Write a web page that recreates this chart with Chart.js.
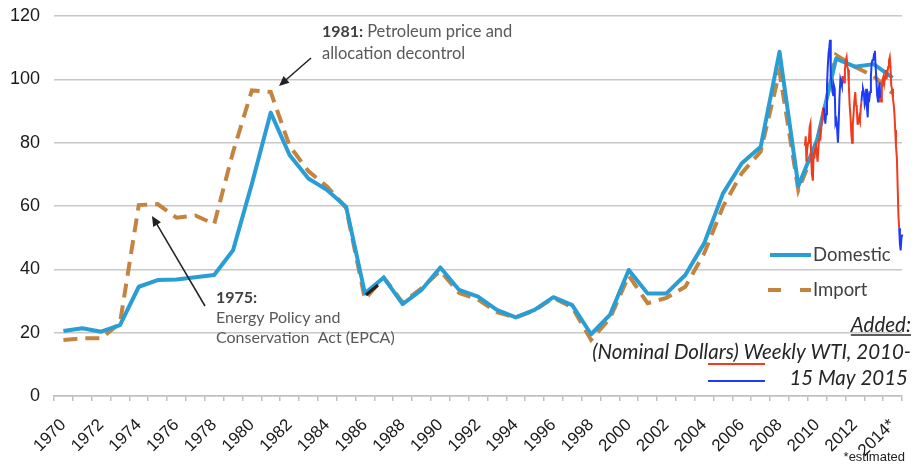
<!DOCTYPE html>
<html>
<head>
<meta charset="utf-8">
<script src="https://cdn.jsdelivr.net/npm/chart.js@4.4.1/dist/chart.umd.min.js"></script>
<style>
  html, body { margin: 0; padding: 0; background: #fff; }
  #wrap { width: 914px; height: 465px; position: relative; }
</style>
</head>
<body>
<div id="wrap"><canvas id="price-chart"></canvas></div>
<script>
// yearly crude oil prices, real dollars
const years = ['1970','1971','1972','1973','1974','1975','1976','1977','1978','1979',
  '1980','1981','1982','1983','1984','1985','1986','1987','1988','1989',
  '1990','1991','1992','1993','1994','1995','1996','1997','1998','1999',
  '2000','2001','2002','2003','2004','2005','2006','2007','2008','2009',
  '2010','2011','2012','2013','2014'];

const domestic = [20.5, 21.4, 20.3, 22.4, 34.5, 36.6, 36.8, 37.5, 38.2, 46,
  67, 89.5, 76.1, 68.7, 65, 59.8, 32.4, 37.4, 29, 33.5,
  40.6, 33.5, 31.4, 27.2, 24.8, 27.2, 31.2, 28.7, 19.5, 25.6,
  39.8, 32.4, 32.4, 38.2, 48.2, 64, 73.5, 78.7, 108.7, 66.3,
  81, 106.5, 104, 104.8, 100.5];

const imported = [17.7, 18.2, 18.2, 23, 60.3, 60.6, 56.3, 57, 54.3, 77,
  96.5, 96, 79, 71, 66.1, 59.4, 30.6, 37.4, 29.5, 34,
  39.5, 32.5, 30.5, 26.5, 24.8, 27, 31, 28, 17.7, 24.5,
  38, 29.3, 31, 34.5, 45, 59.8, 70.4, 77.2, 102.4, 65,
  80, 107.7, 104, 101, 95.6];

// weekly WTI (nominal), decimal year / price
const wtiDates = [
  2010.00, 2010.04, 2010.08, 2010.12, 2010.17, 2010.21, 2010.25, 2010.29, 2010.33, 2010.37, 2010.42, 2010.46,
  2010.50, 2010.54, 2010.58, 2010.62, 2010.67, 2010.71, 2010.75, 2010.79, 2010.83, 2010.88, 2010.92, 2010.96,
  2011.00, 2011.04, 2011.08, 2011.12, 2011.17, 2011.21, 2011.25, 2011.29, 2011.33, 2011.37, 2011.42, 2011.46,
  2011.50, 2011.54, 2011.58, 2011.62, 2011.67, 2011.71, 2011.75, 2011.79, 2011.83, 2011.88, 2011.92, 2011.96,
  2012.00, 2012.04, 2012.08, 2012.12, 2012.17, 2012.21, 2012.25, 2012.29, 2012.33, 2012.37, 2012.42, 2012.46,
  2012.50, 2012.54, 2012.58, 2012.62, 2012.67, 2012.71, 2012.75, 2012.79, 2012.83, 2012.88, 2012.92, 2012.96,
  2013.00, 2013.04, 2013.08, 2013.12, 2013.17, 2013.21, 2013.25, 2013.29, 2013.33, 2013.37, 2013.42, 2013.46,
  2013.50, 2013.54, 2013.58, 2013.62, 2013.67, 2013.71, 2013.75, 2013.79, 2013.83, 2013.88, 2013.92, 2013.96,
  2014.00, 2014.04, 2014.08, 2014.12, 2014.17, 2014.21, 2014.25, 2014.29, 2014.33, 2014.37, 2014.42, 2014.46,
  2014.50, 2014.54, 2014.58, 2014.62, 2014.67, 2014.71, 2014.75, 2014.79, 2014.83, 2014.88, 2014.92, 2014.96,
  2015.00, 2015.04, 2015.08, 2015.12, 2015.17, 2015.21, 2015.25, 2015.29, 2015.33, 2015.37];

const wtiPrices = [
  79, 82, 74, 78, 80, 81, 85, 86, 75, 70, 68, 77,
  75, 78, 80, 77, 74, 78, 81, 83, 82, 86, 88, 91,
  91, 89, 86, 89, 98, 104, 108, 110, 112.5, 101, 99, 96,
  95, 98, 97, 86, 87, 84, 80, 86, 94, 100, 99, 98,
  101, 100, 99, 103, 106, 107, 104, 103, 98, 92, 88, 83,
  80, 86, 89, 93, 96, 92, 91, 86, 86, 88, 87, 91,
  93, 96, 97, 96, 92, 93, 97, 91, 88, 95, 94, 96,
  101, 105, 106, 106, 108, 109, 104, 100, 95, 93, 97, 99,
  94, 93, 97, 100, 101, 99, 101, 103, 100, 102, 104, 106,
  107, 104, 98, 97, 94, 92, 89, 84, 79, 75, 66, 57,
  53, 48, 46, 50, 51, 48, 44, 50, 57, 60];

const blue = '#2a9dd5';
const brown = '#c4843f';
const wtiRed = '#f23a1c';
const wtiBlue = '#1f3cf5';

const wtiPoints = wtiDates.map(function (d, i) { return { x: d, y: wtiPrices[i] }; });

function drawArrow(ctx, x1, y1, x2, y2) {
    var a = Math.atan2(y2 - y1, x2 - x1);
    ctx.beginPath();
    ctx.moveTo(x1, y1);
    ctx.lineTo(x2 - 6 * Math.cos(a), y2 - 6 * Math.sin(a));
    ctx.stroke();
    ctx.beginPath();
    ctx.moveTo(x2, y2);
    ctx.lineTo(x2 - 10 * Math.cos(a) + 4.5 * Math.sin(a), y2 - 10 * Math.sin(a) - 4.5 * Math.cos(a));
    ctx.lineTo(x2 - 10 * Math.cos(a) - 4.5 * Math.sin(a), y2 - 10 * Math.sin(a) + 4.5 * Math.cos(a));
    ctx.closePath();
    ctx.fill();
}

// text notes, arrows and the legend box on top of the plot
const notes = {
    id: 'notes',
    afterDraw(chart) {
        const ctx = chart.ctx;
        ctx.save();
        ctx.textBaseline = 'middle';

        // 1981 note
        ctx.fillStyle = '#404040';
        ctx.font = 'bold 16px Lato';
        ctx.fillText('1981:', 322, 32);
        var w = ctx.measureText('1981: ').width;
        ctx.fillStyle = '#595959';
        ctx.font = '16.5px Lato';
        ctx.fillText('Petroleum price and', 322 + w, 32);
        ctx.fillText('allocation decontrol', 322, 54);

        // 1975 note
        ctx.fillStyle = '#404040';
        ctx.font = 'bold 16px Lato';
        ctx.fillText('1975:', 216, 298);
        ctx.fillStyle = '#595959';
        ctx.font = '16px Lato';
        ctx.fillText('Energy Policy and', 216, 318);
        ctx.fillText('Conservation  Act (EPCA)', 216, 338);

        ctx.strokeStyle = '#222';
        ctx.fillStyle = '#222';
        ctx.lineWidth = 1.5;
        drawArrow(ctx, 311, 58, 279, 86);
        drawArrow(ctx, 205, 306, 152, 216);
        ctx.lineWidth = 3;
        ctx.beginPath();
        ctx.moveTo(366, 295);
        ctx.lineTo(378, 285);
        ctx.stroke();

        // legend
        ctx.lineWidth = 4;
        ctx.strokeStyle = blue;
        ctx.beginPath();
        ctx.moveTo(770, 255);
        ctx.lineTo(811, 255);
        ctx.stroke();
        ctx.strokeStyle = brown;
        ctx.setLineDash([13, 19]);
        ctx.beginPath();
        ctx.moveTo(768, 290);
        ctx.lineTo(811, 290);
        ctx.stroke();
        ctx.setLineDash([]);
        ctx.fillStyle = '#404040';
        ctx.font = '18.5px Lato';
        ctx.fillText('Domestic', 813, 255);
        ctx.fillText('Import', 813, 290);

        // weekly WTI note
        ctx.fillStyle = '#262626';
        ctx.textAlign = 'right';
        ctx.font = 'italic 20.5px Lato';
        ctx.fillText('Added:', 911, 325);
        var aw = ctx.measureText('Added:').width;
        ctx.lineWidth = 1.5;
        ctx.strokeStyle = '#262626';
        ctx.beginPath();
        ctx.moveTo(911 - aw, 335);
        ctx.lineTo(911, 335);
        ctx.stroke();
        ctx.fillText('(Nominal Dollars) Weekly WTI, 2010-', 911, 352);
        ctx.fillText('15 May 2015', 908, 378);
        ctx.lineWidth = 2;
        ctx.strokeStyle = wtiRed;
        ctx.beginPath();
        ctx.moveTo(708, 364);
        ctx.lineTo(765, 364);
        ctx.stroke();
        ctx.strokeStyle = wtiBlue;
        ctx.beginPath();
        ctx.moveTo(708, 381);
        ctx.lineTo(765, 381);
        ctx.stroke();

        ctx.fillStyle = '#222';
        ctx.font = '13px "Liberation Sans"';
        ctx.fillText('*estimated', 905, 457);
        ctx.restore();
    }
};

const chartData = {
    labels: years,
    datasets: [{
        label: 'Weekly WTI',
        data: wtiPoints,
        xAxisID: 'x2',
        borderColor: wtiRed,
        borderWidth: 2,
        pointRadius: 0,
        clip: 10,
        order: 0,
        segment: {
            // alternate colour each calendar year
            borderColor: function (c) { return Math.floor(c.p0.parsed.x) % 2 === 0 ? wtiRed : wtiBlue; }
        }
    }, {
        label: 'Domestic',
        data: domestic,
        borderColor: blue,
        borderWidth: 4,
        borderJoinStyle: 'round',
        pointRadius: 0,
        order: 1
    }, {
        label: 'Import',
        data: imported,
        borderColor: brown,
        borderWidth: 4,
        borderDash: [14, 8],
        pointRadius: 0,
        order: 2
    }]
};

const config = {
    type: 'line',
    data: chartData,
    options: {
        responsive: true,
        maintainAspectRatio: false,
        animation: false,
        layout: { autoPadding: false, padding: { top: 16, right: 12, left: 0, bottom: 0 } },
        plugins: { legend: { display: false }, tooltip: { enabled: false } },
        scales: {
            x: {
                type: 'category',
                offset: true,
                grid: { offset: true, drawOnChartArea: false, tickLength: 5, color: '#bfbfbf', lineWidth: 1.5 },
                border: { color: '#bfbfbf', width: 1.5 },
                ticks: {
                    autoSkip: false,
                    maxRotation: 45,
                    minRotation: 45,
                    padding: 14,
                    color: '#1a1a1a',
                    font: { family: 'Liberation Sans', size: 17 },
                    callback: function (v) {
                        var yr = this.getLabelForValue(v);
                        if (+yr % 2 !== 0) return '';
                        return yr === '2014' ? '2014*' : yr;
                    }
                },
                afterFit: function (s) {
                    s.height = 69;
                    s.paddingLeft = 0;
                    s.paddingRight = 0;
                }
            },
            x2: { type: 'linear', display: false, min: 1970.15, max: 2015.15 },
            y: {
                min: 0,
                max: 120,
                ticks: { stepSize: 20, padding: 14, color: '#1a1a1a', font: { family: 'Liberation Sans', size: 18 } },
                grid: { color: '#c8c8c8', lineWidth: 1.5, drawTicks: false },
                border: { display: false },
                afterFit: function (s) {
                    s.width = 54;
                    s.paddingTop = 0;
                    s.paddingBottom = 0;
                }
            }
        }
    },
    plugins: [notes]
};

const priceChart = new Chart(document.getElementById('price-chart'), config);
</script>
</body>
</html>
